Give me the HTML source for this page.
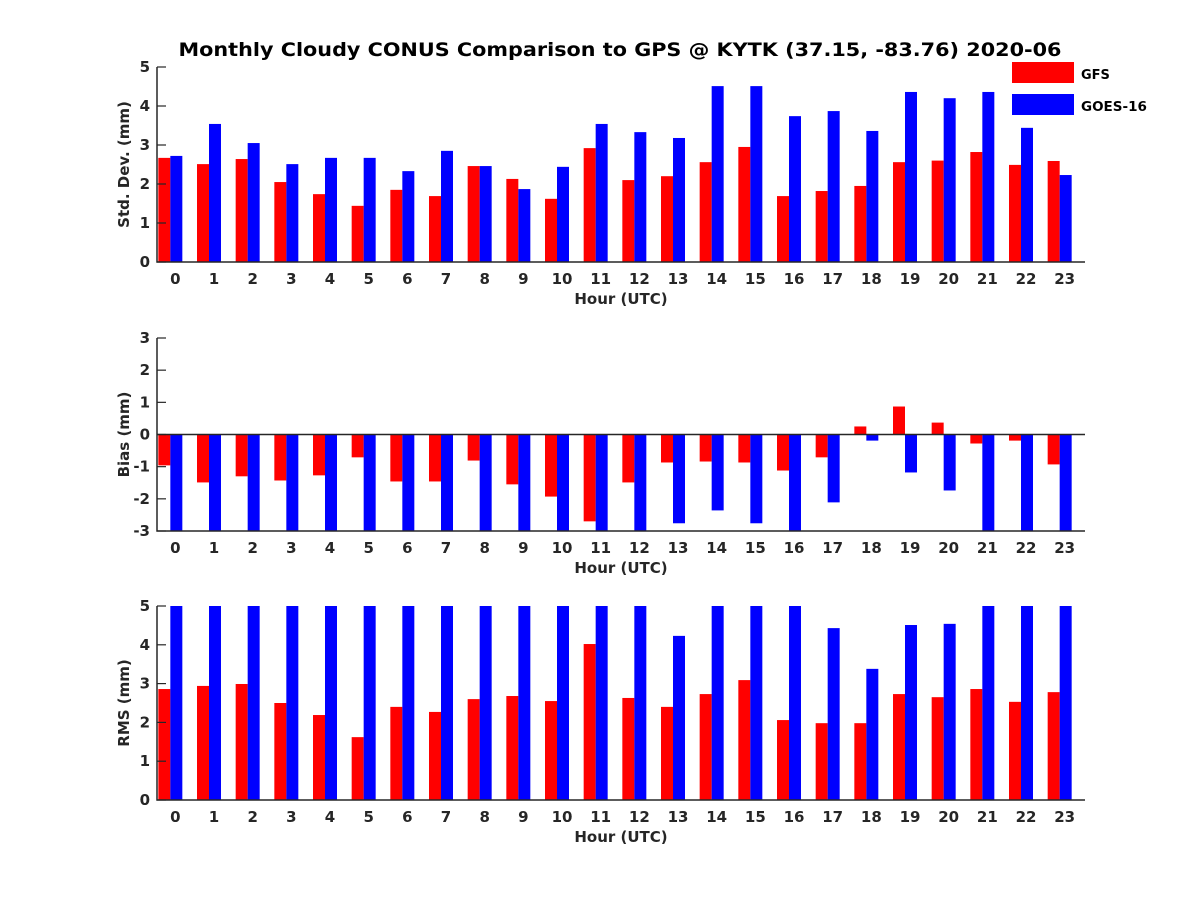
<!DOCTYPE html>
<html><head><meta charset="utf-8"><style>
body{margin:0;background:#fff}
svg text{font-family:"DejaVu Sans","Liberation Sans",sans-serif;font-weight:bold;fill:#262626}
</style></head><body>
<svg id="fig" width="1200" height="900" xmlns="http://www.w3.org/2000/svg">
<rect width="1200" height="900" fill="#fff"/>
<text x="620" y="56" font-size="19" text-anchor="middle" textLength="883" lengthAdjust="spacingAndGlyphs" style="fill:#000">Monthly Cloudy CONUS Comparison to GPS @ KYTK (37.15, -83.76) 2020-06</text>
<g>
<rect x="1012" y="62" width="62" height="21" fill="#ff0000"/>
<text x="1081" y="79" font-size="13" style="fill:#000">GFS</text>
<rect x="1012" y="94" width="62" height="21" fill="#0000ff"/>
<text x="1081" y="111" font-size="13.5" style="fill:#000">GOES-16</text>
</g>
</svg>
<script>
const hours=[0,1,2,3,4,5,6,7,8,9,10,11,12,13,14,15,16,17,18,19,20,21,22,23];
const stdGFS=[2.67,2.51,2.64,2.05,1.74,1.44,1.85,1.69,2.46,2.13,1.62,2.92,2.10,2.20,2.56,2.95,1.69,1.82,1.95,2.56,2.60,2.82,2.49,2.59];
const stdGOES=[2.72,3.54,3.05,2.51,2.67,2.67,2.33,2.85,2.46,1.87,2.44,3.54,3.33,3.18,4.51,4.51,3.74,3.87,3.36,4.36,4.20,4.36,3.44,2.23];
const biasGFS=[-0.96,-1.49,-1.30,-1.43,-1.27,-0.71,-1.46,-1.46,-0.81,-1.55,-1.93,-2.70,-1.49,-0.87,-0.84,-0.87,-1.12,-0.71,0.25,0.87,0.37,-0.28,-0.19,-0.93];
const biasGOES=[-3.5,-3.5,-3.5,-3.5,-3.5,-3.5,-3.5,-3.5,-3.5,-3.5,-3.5,-3.5,-3.5,-2.76,-2.36,-2.76,-3.5,-2.11,-0.19,-1.18,-1.74,-3.5,-3.5,-3.5];
const rmsGFS=[2.86,2.94,2.99,2.50,2.19,1.62,2.40,2.27,2.60,2.68,2.55,4.02,2.63,2.40,2.73,3.09,2.06,1.98,1.98,2.73,2.65,2.86,2.53,2.78];
const rmsGOES=[6,6,6,6,6,6,6,6,6,6,6,6,6,4.23,6,6,6,4.43,3.38,4.51,4.54,6,6,6];
const stdTicks=[0,1,2,3,4,5];
const biasTicks=[-3,-2,-1,0,1,2,3];
const rmsTicks=[0,1,2,3,4,5];

const NS="http://www.w3.org/2000/svg";
const svg=document.getElementById('fig');
const X0=157,X1=1085;
function xs(h){return X0+(h+0.5)*(X1-X0)/24;}
function mk(tag,attrs,parent){const e=document.createElementNS(NS,tag);for(const k in attrs)e.setAttribute(k,attrs[k]);(parent||svg).appendChild(e);return e;}

function panel(key,top,bot,ymin,ymax,ticks,a,b,ylabel){
  const g=mk('g',{});
  
  
  const ys=v=>bot-(v-ymin)*(bot-top)/(ymax-ymin);
  const clamp=v=>Math.max(top,Math.min(bot,v));
  const base=ys(Math.max(ymin,Math.min(ymax,0)));
  hours.forEach((h,i)=>{
    const x=xs(h);
    [[a[i],x-18,'#ff0000','gfs'],[b[i],x-6,'#0000ff','goes16']].forEach(([v,bx,c,s])=>{
      const y=clamp(ys(v));
      const r=mk('rect',{x:bx,y:Math.min(y,base),width:12,height:Math.abs(base-y),fill:c},g);
      
      
    });
    const t=mk('text',{x:x-1,y:bot+22,'font-size':15,'text-anchor':'middle'},g);
    t.textContent=h;
    
    
  });
  if(ymin<0){
    const z=mk('line',{x1:X0,x2:X1,y1:base,y2:base,stroke:'#262626','stroke-width':1.5},g);
    
    
  }
  const ax=mk('path',{d:`M${X0} ${top}V${bot}H${X1}`,fill:'none',stroke:'#262626','stroke-width':1.5},g);
  
  
  ticks.forEach(v=>{
    const y=ys(v);
    mk('line',{x1:X0,x2:X0+9,y1:y,y2:y,stroke:'#262626','stroke-width':1.2},g);
    const t=mk('text',{x:X0-7,y:y+5,'font-size':15,'text-anchor':'end'},g);
    t.textContent=v;
    
    
  });
  const xl=mk('text',{x:621,y:bot+42,'font-size':15,'text-anchor':'middle'},g);
  xl.textContent='Hour (UTC)';
  
  
  const cy=(top+bot)/2;
  const yl=mk('text',{x:0,y:0,'font-size':15,'text-anchor':'middle',transform:`translate(129,${cy}) rotate(-90)`},g);
  yl.textContent=ylabel;
  
  
}
panel('std',67,262,0,5,stdTicks,stdGFS,stdGOES,'Std. Dev. (mm)');
panel('bias',338,531,-3,3,biasTicks,biasGFS,biasGOES,'Bias (mm)');
panel('rms',606,800,0,5,rmsTicks,rmsGFS,rmsGOES,'RMS (mm)');
</script>
</body></html>
